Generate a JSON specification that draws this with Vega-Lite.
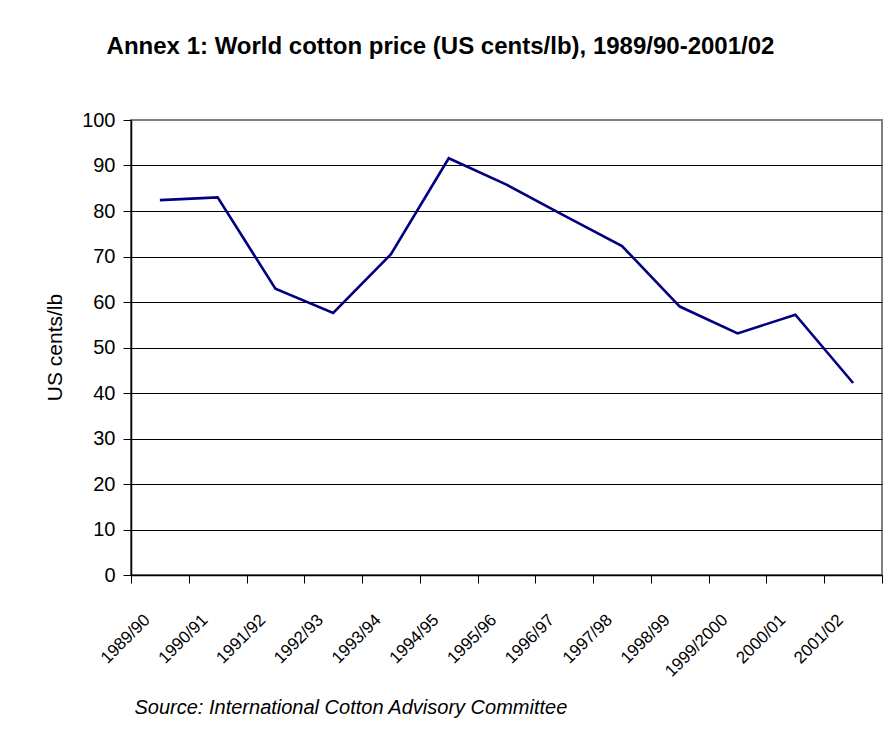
{
  "$schema": "https://vega.github.io/schema/vega-lite/v6.json",
  "width": 751,
  "height": 455,
  "autosize": {"type": "none"},
  "padding": {"left": 131, "top": 120, "right": 10, "bottom": 181},
  "background": "white",
  "data": {
    "values": [
      {"season": "1989/90", "price": 82.4},
      {"season": "1990/91", "price": 83.0},
      {"season": "1991/92", "price": 62.9},
      {"season": "1992/93", "price": 57.6},
      {"season": "1993/94", "price": 70.5},
      {"season": "1994/95", "price": 91.6},
      {"season": "1995/96", "price": 85.8},
      {"season": "1996/97", "price": 79.0},
      {"season": "1997/98", "price": 72.3},
      {"season": "1998/99", "price": 59.0},
      {"season": "1999/2000", "price": 53.1},
      {"season": "2000/01", "price": 57.2},
      {"season": "2001/02", "price": 42.2}
    ]
  },
  "layer": [
    {
      "mark": {"type": "line", "color": "#000080", "strokeWidth": 2.6},
      "encoding": {
        "x": {
          "field": "season",
          "type": "ordinal",
          "sort": null,
          "bandPosition": 0.5,
          "scale": {"type": "band", "paddingInner": 0, "paddingOuter": 0},
          "axis": {
            "orient": "bottom",
            "title": "Source: International Cotton Advisory Committee",
            "titleFont": "Liberation Sans",
            "titleFontSize": 20,
            "titleFontStyle": "italic",
            "titleFontWeight": "normal",
            "titleColor": "black",
            "titleX": 3,
            "titleY": 132,
            "titleAlign": "left",
            "titleBaseline": "middle",
            "titleAngle": 0,
            "tickBand": "extent",
            "domainColor": "black",
            "domainWidth": 1.5,
            "tickColor": "black",
            "tickSize": 8,
            "labelAngle": -45,
            "labelAlign": "right",
            "labelBaseline": "middle",
            "labelFont": "Liberation Sans",
            "labelFontSize": 17,
            "labelColor": "black",
            "labelOffset": -13,
            "labelPadding": 34,
            "labelOverlap": false,
            "grid": false
          }
        },
        "y": {
          "field": "price",
          "type": "quantitative",
          "scale": {"domain": [0, 100], "nice": false},
          "axis": {
            "title": "US cents/lb",
            "titleFont": "Liberation Sans",
            "titleFontSize": 21,
            "titleFontWeight": "normal",
            "titleColor": "black",
            "titleX": -76,
            "titleY": 227,
            "titleAlign": "center",
            "titleBaseline": "middle",
            "titleAngle": -90,
            "values": [0, 10, 20, 30, 40, 50, 60, 70, 80, 90, 100],
            "grid": true,
            "gridColor": {"condition": {"test": "datum.value === 100", "value": "#808080"}, "value": "black"},
            "gridWidth": 1,
            "gridOpacity": 1,
            "domainColor": "black",
            "domainWidth": 1.5,
            "tickColor": "black",
            "tickSize": 8,
            "labelFont": "Liberation Sans",
            "labelFontSize": 20,
            "labelColor": "black",
            "labelPadding": 8
          }
        }
      }
    },
    {
      "mark": {"type": "line", "strokeOpacity": 0},
      "encoding": {
        "x": {
          "field": "season",
          "type": "ordinal",
          "sort": null,
          "bandPosition": 0.5,
          "axis": {
            "orient": "top",
            "title": "Annex 1: World cotton price (US cents/lb), 1989/90-2001/02",
            "titleFont": "Liberation Sans",
            "titleFontSize": 24,
            "titleFontWeight": "bold",
            "titleColor": "black",
            "titleX": 309,
            "titleY": -67,
            "titleAlign": "center",
            "titleBaseline": "alphabetic",
            "titleAngle": 0,
            "labels": false,
            "ticks": false,
            "domain": false,
            "grid": false
          }
        },
        "y": {"field": "price", "type": "quantitative"}
      }
    }
  ],
  "resolve": {"axis": {"x": "independent"}},
  "config": {
    "view": {"stroke": "#808080", "strokeWidth": 2}
  }
}
